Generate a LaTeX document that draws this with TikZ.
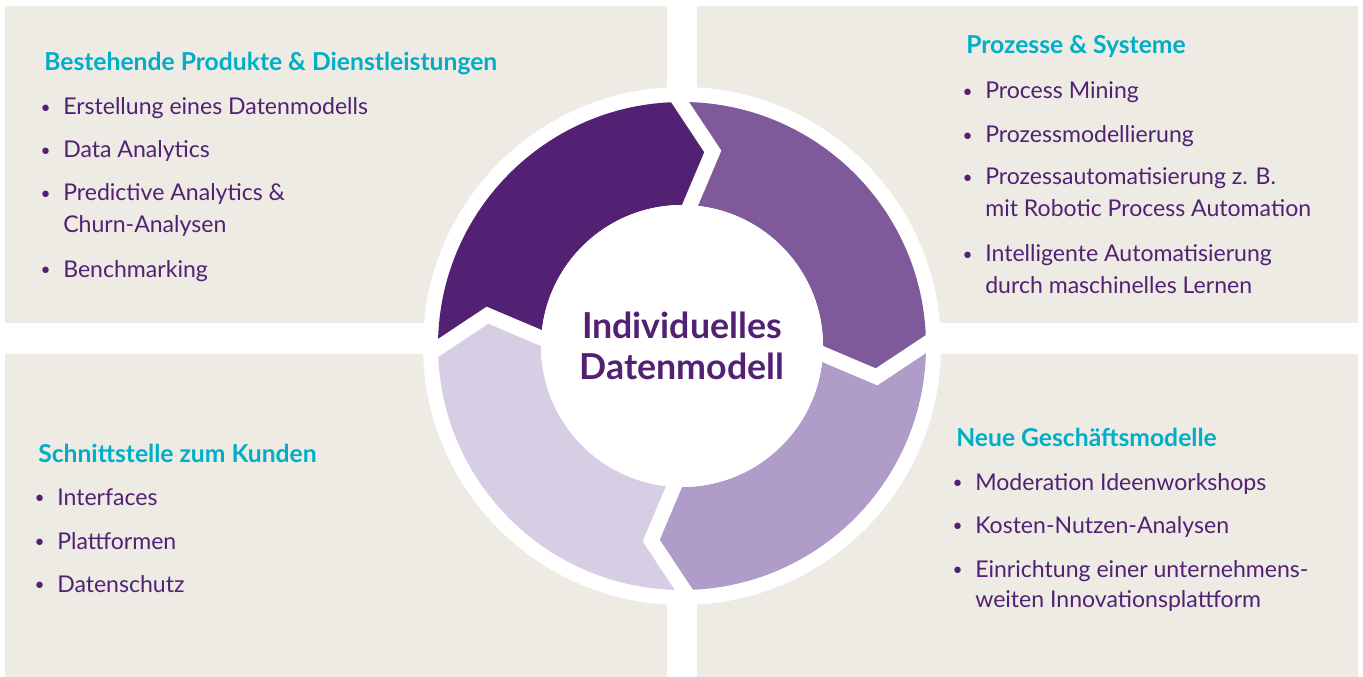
\documentclass[tikz,border=0pt]{standalone}
\usepackage{fontspec}
\setmainfont{Lato}
\definecolor{beige}{HTML}{EEEBE5}
\definecolor{headcyan}{HTML}{00AEC7}
\definecolor{txtpurple}{HTML}{522173}
\definecolor{segA}{HTML}{522173}
\definecolor{segB}{HTML}{7F5A9B}
\definecolor{segC}{HTML}{B09CC8}
\definecolor{segD}{HTML}{D7CDE4}
\newcommand{\bul}{\llap{\raisebox{1.2pt}{\fontsize{13}{13}\selectfont\textbullet}\hskip 9.5pt}}
\begin{document}
\begin{tikzpicture}[x=0.75pt,y=0.75pt,
    quad/.style={fill=beige},
    head/.style={anchor=base west,inner sep=0,text=headcyan,font=\bfseries\fontsize{18.5}{22}\selectfont},
    item/.style={anchor=base west,inner sep=0,text=txtpurple,font=\fontsize{17.3}{21}\selectfont},
    gap/.style={white,line width=11.25pt},
    hub/.style={circle,fill=white,minimum size=211.5pt,inner sep=0,align=center,text=txtpurple,font=\bfseries\fontsize{26.8}{31}\selectfont}]
    \useasboundingbox (0,0) rectangle (1363,-677);
    \fill[white] (0,0) rectangle (1363,-677);
    \fill[quad] (5,-6) rectangle (667,-323);
    \fill[quad] (697,-6) rectangle (1358,-323);
    \fill[quad] (5,-354) rectangle (667,-677);
    \fill[quad] (697,-354) rectangle (1358,-677);
    \fill[white] (682,-346) circle[radius=194.25pt];
    \foreach \b/\c in {180.5/segA,90.5/segB,0.5/segC,-89.5/segD}
        \fill[\c,shift={(682,-346)}] (\b:183pt) arc[start angle=\b,end angle=\b-90,radius=183pt]
            -- (\b-99.5:147.75pt) -- (\b-93.8:105.75pt) arc[start angle=\b-93.8,end angle=\b-3.8,radius=105.75pt]
            -- (\b-9.5:147.75pt) -- cycle;
    \foreach \b in {180.5,90.5,0.5,-89.5}
        \draw[gap,shift={(682,-346)}] (\b+1:188.25pt) -- (\b-9.5:147.75pt) -- (\b-2.7:100.5pt);
    \node[hub] (hub) at (682,-346) {Individuelles\\Datenmodell};

    \node[head] (tlh) at (44,-71) {Bestehende Produkte \& Dienstleistungen};
    \node[item] (tl1) at (63,-115) {\bul Erstellung eines Datenmodells};
    \node[item] (tl2) at (63,-158) {\bul Data Analytics};
    \node[item] (tl3) at (63,-201) {\bul Predictive Analytics \&};
    \node[item] (tl3b) at (63,-233) {Churn-Analysen};
    \node[item] (tl4) at (63,-277) {\bul Benchmarking};

    \node[head] (trh) at (966,-54) {Prozesse \& Systeme};
    \node[item] (tr1) at (985,-99) {\bul Process Mining};
    \node[item] (tr2) at (985,-143) {\bul Prozessmodellierung};
    \node[item] (tr3) at (985,-185) {\bul Prozessautomatisierung z. B.};
    \node[item] (tr3b) at (985,-217) {mit Robotic Process Automation};
    \node[item] (tr4) at (985,-262) {\bul Intelligente Automatisierung};
    \node[item] (tr4b) at (985,-293) {durch maschinelles Lernen};

    \node[head] (blh) at (38,-462) {Schnittstelle zum Kunden};
    \node[item] (bl1) at (57,-505) {\bul Interfaces};
    \node[item] (bl2) at (57,-549) {\bul Plattformen};
    \node[item] (bl3) at (57,-592) {\bul Datenschutz};

    \node[head] (brh) at (956,-446) {Neue Geschäftsmodelle};
    \node[item] (br1) at (975,-490) {\bul Moderation Ideenworkshops};
    \node[item] (br2) at (975,-533) {\bul Kosten-Nutzen-Analysen};
    \node[item] (br3) at (975,-577) {\bul Einrichtung einer unternehmens-};
    \node[item] (br3b) at (975,-607) {weiten Innovationsplattform};
\end{tikzpicture}
\end{document}
